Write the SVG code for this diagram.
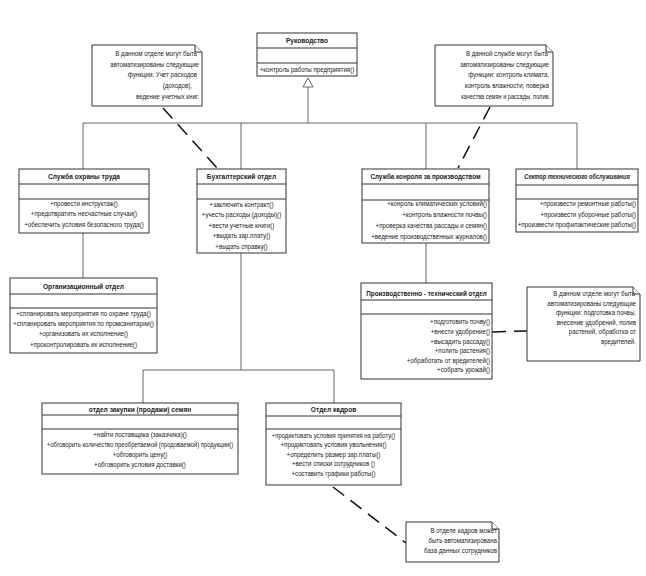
<svg xmlns="http://www.w3.org/2000/svg" width="646" height="576" viewBox="0 0 646 576">
<style>
.bx{fill:#fff;stroke:#333;stroke-width:1}
.sp{stroke:#333;stroke-width:1}
.cn{stroke:#666;stroke-width:1;fill:none}
.dl{stroke:#111;stroke-width:1.5;stroke-dasharray:14 8;fill:none}
.nt{fill:#fff;stroke:#333;stroke-width:1}
text{font-family:"Liberation Sans",Arial,sans-serif;font-size:7px;fill:#222;transform-box:fill-box;transform:scaleX(0.88)}
.h{font-weight:bold;font-size:7.5px}
.i{font-style:italic}
.c{text-anchor:middle;transform-origin:center}
.r{text-anchor:end;transform-origin:right center}
.t{transform:scaleX(0.8)}
.u{transform:scaleX(0.84)}
</style>
<rect width="646" height="576" fill="#fff"/>
<g id="connectors">
<path class="cn" d="M308 87V123M83 123H577M83 123V169M241 123V169M426 123V169M577 123V169M83 233V278M426 243V283M241 253V370M143 370H334M143 370V403M334 370V403"/>
<path class="cn" d="M308 78L303 87H313Z" fill="#fff"/>
<path class="dl" d="M163 108L218 169"/>
<path class="dl" d="M490 107L458 168"/>
<path class="dl" d="M492 332L527 331"/>
<path class="dl" d="M333 487L406 543"/>
</g>
<g id="rukovodstvo">
<rect class="bx" x="257" y="33" width="100" height="43"/>
<path class="sp" d="M257 48H357M257 63H357"/>
<text class="h c" x="307" y="43">Руководство</text>
<text class="c" x="307" y="72">+контроль работы предприятия()</text>
</g>
<g id="ohrana">
<rect class="bx" x="19" y="169" width="130" height="64"/>
<path class="sp" d="M19 184H149M19 199H149"/>
<text class="h c" x="84" y="179.5">Служба охраны труда</text>
<text class="c" x="84" y="206">+провести инструктаж()</text>
<text class="c" x="84" y="216.5">+предотвратить несчастные случаи()</text>
<text class="c" x="84" y="227">+обеспечить условия безопасного труда()</text>
</g>
<g id="buh">
<rect class="bx" x="197" y="169" width="89" height="84"/>
<path class="sp" d="M197 184H286M197 199H286"/>
<text class="h c" x="241.5" y="179.5">Бухгалтерский отдел</text>
<text class="c" x="241.5" y="207">+заключить контракт()</text>
<text class="c" x="241.5" y="217.5">+учесть расходы (доходы)()</text>
<text class="c" x="241.5" y="228">+вести учетные книги()</text>
<text class="c" x="241.5" y="238.5">+выдать зар.плату()</text>
<text class="c" x="241.5" y="249">+выдать справку()</text>
</g>
<g id="kontrol">
<rect class="bx" x="362" y="169" width="127" height="74"/>
<path class="sp" d="M362 184H489M362 200H489"/>
<text class="h c u" x="425.5" y="179.5">Служба конроля за производством</text>
<text class="r" x="487" y="206">+конроль климатических условий()</text>
<text class="r" x="487" y="217">+контроль влажности почвы()</text>
<text class="r" x="487" y="228">+проверка качества рассады и семян()</text>
<text class="r" x="487" y="239.5">+ведение производственных журналов()</text>
</g>
<g id="sektor">
<rect class="bx" x="516" y="169" width="122" height="63"/>
<path class="sp" d="M516 185H638M516 199H638"/>
<text class="h i c t" x="577" y="179.5" style="font-size:7px">Сектор технического обслуживания</text>
<text class="r" x="636" y="206">+произвести ремонтные работы()</text>
<text class="r" x="636" y="217">+произвести уборочные работы()</text>
<text class="r" x="636" y="227.5">+произвести профилактические работы()</text>
</g>
<g id="org">
<rect class="bx" x="10" y="278" width="147" height="75"/>
<path class="sp" d="M10 294H157M10 308H157"/>
<text class="h c" x="83.5" y="289">Организационный отдел</text>
<text class="c" x="83.5" y="316">+спланировать мероприятия по охране труда()</text>
<text class="c" x="83.5" y="326">+спланировать мероприятия по промсанитарии()</text>
<text class="c" x="83.5" y="336.5">+организовать их исполнение()</text>
<text class="c" x="83.5" y="347">+проконтролировать их исполнение()</text>
</g>
<g id="proizv">
<rect class="bx" x="361" y="283" width="131" height="96"/>
<path class="sp" d="M361 300H492M361 314H492"/>
<text class="h c u" x="426.5" y="296">Производственно - технический отдел</text>
<text class="r" x="490" y="324.5">+подготовить почву()</text>
<text class="r" x="490" y="334.1">+внести удобрение()</text>
<text class="r" x="490" y="343.7">+высадить рассаду()</text>
<text class="r" x="490" y="353.3">+полить растения()</text>
<text class="r" x="490" y="362.9">+обработать от вредителей()</text>
<text class="r" x="490" y="372.5">+собрать урожай()</text>
</g>
<g id="zakupki">
<rect class="bx" x="42" y="403" width="196" height="71"/>
<path class="sp" d="M42 415H238M42 429H238"/>
<text class="h c" x="140" y="412">отдел закупки (продажи) семян</text>
<text class="c" x="140" y="437.5">+найти поставщика (заказчика)()</text>
<text class="c u" x="140" y="447.5">+обговорить количество преобретаемой (продоваемой) продукции()</text>
<text class="c" x="140" y="457.5">+обговорить цену()</text>
<text class="c" x="140" y="467">+обговорить условия доставки()</text>
</g>
<g id="kadry">
<rect class="bx" x="266" y="403" width="135" height="82"/>
<path class="sp" d="M266 416H401M266 429H401"/>
<text class="h c" x="333.5" y="412.5">Отдел кадров</text>
<text class="c u" x="333.5" y="438">+продиктовать условия принятия на работу()</text>
<text class="c" x="333.5" y="447.5">+продиктовать условия увольнения()</text>
<text class="c" x="333.5" y="457">+определить размер зар.платы()</text>
<text class="c" x="333.5" y="466.5">+вести списки сотрудников ()</text>
<text class="c" x="333.5" y="476">+составить графики работы()</text>
</g>
<g id="note1">
<path class="nt" d="M92 45H195L202 52V106H92Z"/>
<path class="nt" d="M195 45V52H202"/>
<text class="r" x="197" y="56">В данном отделе могут быть</text>
<text class="r" x="199" y="67">автоматизированы следующие</text>
<text class="r" x="197" y="77">функции: Учет расходов</text>
<text class="r" x="192" y="88.5">(доходов),</text>
<text class="r" x="199" y="99">ведение учетных книг.</text>
</g>
<g id="note2">
<path class="nt" d="M435 45H546L553 52V106H435Z"/>
<path class="nt" d="M546 45V52H553"/>
<text class="r" x="548" y="56">В данной службе могут быть</text>
<text class="r" x="549" y="67">автоматизированы следующие</text>
<text class="r" x="549" y="77">функции: контроль климата,</text>
<text class="r" x="549" y="88.5">контроль влажности, поверка</text>
<text class="r t" x="550" y="99">качества семян и рассады, полив.</text>
</g>
<g id="note3">
<path class="nt" d="M527 287H633L640 294V361H527Z"/>
<path class="nt" d="M633 287V294H640"/>
<text class="r" x="635" y="296">В данном отделе могут быть</text>
<text class="r" x="636" y="306">автоматизированы следующие</text>
<text class="r" x="636" y="315.5">функции: подготовка почвы,</text>
<text class="r" x="636" y="325">внесение удобрений, полив</text>
<text class="r" x="636" y="334.5">растений, обработка от</text>
<text class="r" x="636" y="344">вредителей.</text>
</g>
<g id="note4">
<path class="nt" d="M406 522H492L499 529V562H406Z"/>
<path class="nt" d="M492 522V529H499"/>
<text class="r" x="497" y="533.5">В отделе кадров может</text>
<text class="r" x="497" y="543.5">быть автоматизирована</text>
<text class="r" x="497" y="553">база данных сотрудников</text>
</g>
</svg>
